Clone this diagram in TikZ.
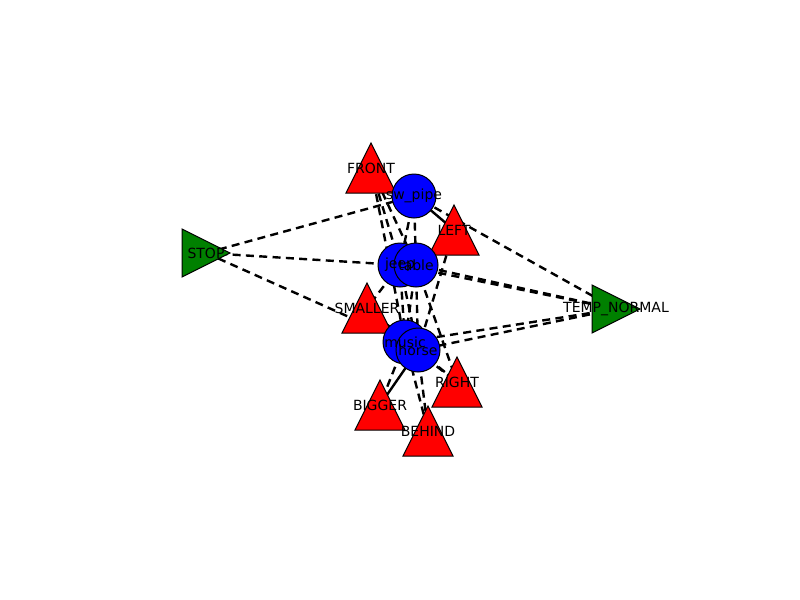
\documentclass[tikz,border=0pt]{standalone}
\usepackage{fontspec}
\setmainfont{DejaVu Sans}
\definecolor{mplgreen}{rgb}{0,0.5,0}
\begin{document}
\begin{tikzpicture}[x=0.75pt,y=-0.75pt,
  edge/.style={line width=1.8pt,black,dash pattern=on 6pt off 4pt},
  sedge/.style={line width=1.8pt,black},
  redtri/.style={fill=red,draw=black,line width=0.75pt},
  greentri/.style={fill=mplgreen,draw=black,line width=0.75pt},
  bluecirc/.style={fill=blue,draw=black,line width=0.75pt},
  lbl/.style={font=\fontsize{10.5}{12}\selectfont,inner sep=0pt,text=black}]
\useasboundingbox (0,0) rectangle (800,600);
\fill[white] (0,0) rectangle (800,600);
% node positions
\coordinate (FRONT) at (371,168);
\coordinate (swpipe) at (414,196);
\coordinate (LEFT) at (454,230);
\coordinate (jeep) at (400,265);
\coordinate (table) at (416,265);
\coordinate (STOP) at (206,253);
\coordinate (TEMP) at (616,309);
\coordinate (SMALLER) at (367,308);
\coordinate (music) at (405,342);
\coordinate (horse) at (418,350);
\coordinate (RIGHT) at (457,382);
\coordinate (BIGGER) at (380,405);
\coordinate (BEHIND) at (428,431);
% edges
\draw[edge] (STOP) -- (swpipe);
\draw[edge] (STOP) -- (jeep);
\draw[edge] (STOP) -- (music);
\draw[edge] (TEMP) -- (swpipe);
\draw[edge] (TEMP) -- (jeep);
\draw[edge] (TEMP) -- (table);
\draw[edge] (TEMP) -- (music);
\draw[edge] (TEMP) -- (horse);
\draw[edge] (FRONT) -- (jeep);
\draw[edge] (FRONT) -- (table);
\draw[edge] (FRONT) -- (music);
\draw[edge] (swpipe) -- (jeep);
\draw[edge] (swpipe) -- (table);
\draw[sedge] (swpipe) -- (LEFT);
\draw[edge] (LEFT) -- (horse);
\draw[edge] (jeep) -- (music);
\draw[edge] (jeep) -- (horse);
\draw[edge] (table) -- (music);
\draw[edge] (table) -- (horse);
\draw[edge] (table) -- (RIGHT);
\draw[edge] (jeep) -- (SMALLER);
\draw[edge] (SMALLER) -- (horse);
\draw[edge] (music) -- (BIGGER);
\draw[sedge] (horse) -- (BIGGER);
\draw[edge] (music) -- (BEHIND);
\draw[edge] (horse) -- (BEHIND);
\draw[edge] (horse) -- (RIGHT);
\draw[edge] (music) -- (RIGHT);
% triangles
\foreach \n in {FRONT,LEFT,SMALLER,RIGHT,BIGGER,BEHIND}{
  \draw[redtri] ([shift={(0,-25)}]\n) -- ([shift={(-25,25)}]\n) -- ([shift={(25,25)}]\n) -- cycle;
}
\foreach \n in {STOP,TEMP}{
  \draw[greentri] ([shift={(24,0)}]\n) -- ([shift={(-24,-24)}]\n) -- ([shift={(-24,24)}]\n) -- cycle;
}
% circles
\foreach \n in {swpipe,jeep,table,music,horse}{
  \draw[bluecirc] (\n) circle[radius=16.5pt];
}
% labels
\node[lbl] (lFRONT) at (FRONT) {FRONT};
\node[lbl] (lswpipe) at (swpipe) {sw\_pipe};
\node[lbl] (lLEFT) at (LEFT) {LEFT};
\node[lbl] (ljeep) at (jeep) {jeep};
\node[lbl] (ltable) at (table) {table};
\node[lbl] (lSTOP) at (STOP) {STOP};
\node[lbl] (lTEMP) at (TEMP) {TEMP\_NORMAL};
\node[lbl] (lSMALLER) at (SMALLER) {SMALLER};
\node[lbl] (lmusic) at (music) {music};
\node[lbl] (lhorse) at (horse) {horse};
\node[lbl] (lRIGHT) at (RIGHT) {RIGHT};
\node[lbl] (lBIGGER) at (BIGGER) {BIGGER};
\node[lbl] (lBEHIND) at (BEHIND) {BEHIND};
\end{tikzpicture}
\end{document}
